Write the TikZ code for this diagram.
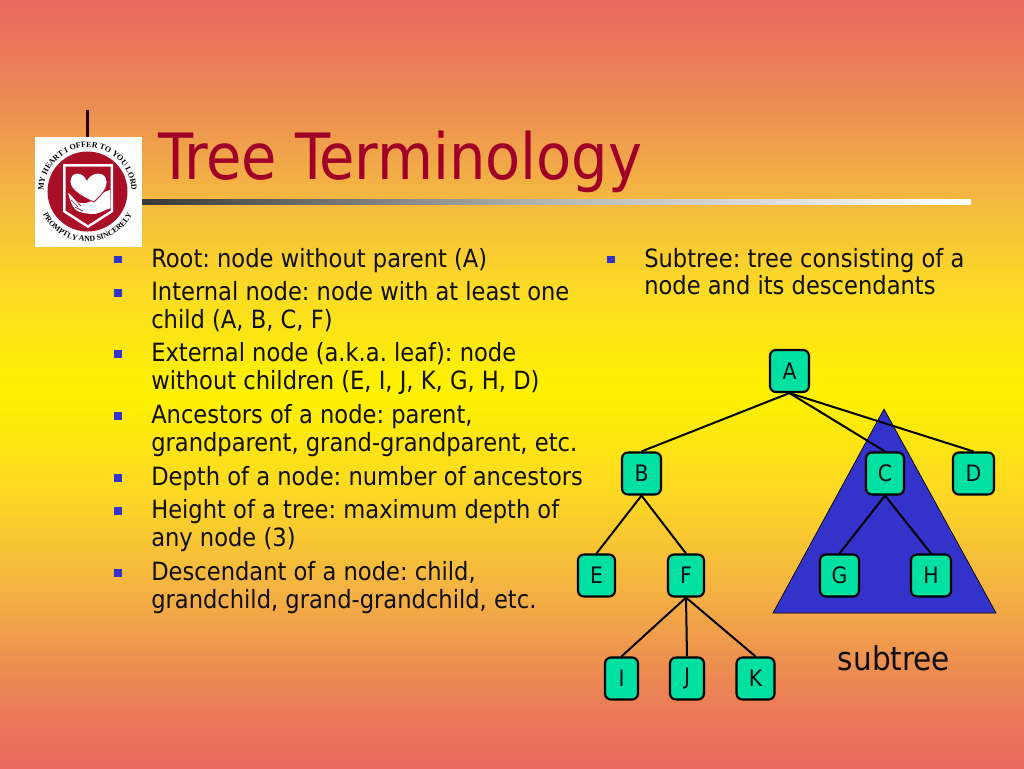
\documentclass[tikz,border=0pt]{standalone}
\usepackage{fontspec}
\setmainfont{DejaVu Sans Condensed}
\newfontfamily\sealfont{Liberation Serif}
\usetikzlibrary{decorations.text}
\definecolor{titlered}{RGB}{160,0,40}
\definecolor{nodegreen}{RGB}{0,224,160}
\definecolor{triblue}{RGB}{51,51,204}
\definecolor{sealred}{RGB}{170,15,40}
\definecolor{inktext}{RGB}{15,15,20}
\pgfdeclareverticalshading{slidebg}{100bp}{
  rgb(0bp)=(0.925,0.41,0.375);
  rgb(25bp)=(0.925,0.41,0.375);
  rgb(30bp)=(0.92,0.51,0.335);
  rgb(37bp)=(0.96,0.71,0.255);
  rgb(43bp)=(0.99,0.85,0.14);
  rgb(49.5bp)=(1,0.95,0);
  rgb(56bp)=(0.99,0.86,0.14);
  rgb(62bp)=(0.96,0.725,0.255);
  rgb(69bp)=(0.92,0.53,0.335);
  rgb(75bp)=(0.925,0.41,0.375);
  rgb(100bp)=(0.925,0.41,0.375)}
\tikzset{
  x=0.75pt,y=-0.75pt,
  treenode/.style={draw=black,line width=1.6pt,fill=nodegreen,rounded corners=4.5pt,inner sep=0pt,text=inktext,font=\fontsize{17}{17}\selectfont},
  treeedge/.style={draw=black,line width=1.5pt},
  bodytext/.style={anchor=base west,inner sep=0pt,text=inktext,font=\fontsize{18.85}{18.85}\selectfont\frenchspacing},
  bulletmark/.style={fill=triblue,draw=none,minimum size=5.6pt,inner sep=0pt}
}
\newcommand{\tn}[6]{\node[treenode,minimum width=#4*0.75pt,minimum height=#5*0.75pt] (#1) at (#2,#3) {#6};}
\begin{document}
\begin{tikzpicture}
\useasboundingbox (0,0) rectangle (1024,768);
\shade[shading=slidebg] (0,0) rectangle (1024,768);
% title rule
\shade[left color=black!78,right color=white,middle color=black!28] (142,199) rectangle (971,204.3);
\fill[black!85!red] (85.5,110) rectangle (88.5,137);
% seal
\fill[white] (35,137) rectangle (142,247);
\fill[sealred] (87.5,191.5) circle[radius=40];
\fill[white] (63,164) -- (113,164) -- (113,212) -- (88,228) -- (63,212) -- cycle;
\fill[sealred] (65.5,166.5) -- (110.5,166.5) -- (110.5,210.5) -- (88,225) -- (65.5,210.5) -- cycle;
\fill[white] (68,193) .. controls (73,196) and (76,202) .. (80,203) .. controls (85,204) and (90,202) .. (93,200) .. controls (98,197) and (104,191) .. (110,190) -- (110.5,208) .. controls (105,210) and (100,213) .. (95,214) .. controls (88,214) and (80,213) .. (76,210) .. controls (72,207) and (70,200) .. (68,193) -- cycle;
\fill[white,draw=sealred,line width=0.6pt] (87,180) .. controls (83,171) and (70,170) .. (70,182) .. controls (70,190) and (84,198) .. (94,202) .. controls (100,196) and (107,190) .. (107,182) .. controls (107,170) and (91,171) .. (87,180) -- cycle;
\draw[sealred,line width=0.5pt] (71,200) -- (78,207);
\draw[sealred,line width=0.5pt] (73,197) -- (81,206);
\draw[sealred,line width=0.5pt] (75,207) -- (83,211);
\path[decorate,decoration={text along path,text align=center,text={|\fontsize{6}{7}\selectfont\sealfont\bfseries|MY HEART I OFFER TO YOU LORD}}] (43.5,191.5) arc[start angle=180,end angle=360,radius=44];
\path[decorate,decoration={text along path,text align=center,text={|\fontsize{5.8}{7}\selectfont\sealfont\bfseries|PROMPTLY AND SINCERELY}}] (37.7,196) arc[start angle=175,end angle=5,radius=50];
% title
\node[anchor=base west,inner sep=0pt,text=titlered,font=\fontsize{47.9}{47.9}\selectfont] (title) at (158,179) {Tree Terminology};
% left column
\node[bulletmark] (b1) at (118,259.5) {};
\node[bodytext] (l1) at (151,267) {Root: node without parent (A)};
\node[bulletmark] (b2) at (118,293) {};
\node[bodytext] (l2) at (151,300) {Internal node: node with at least one};
\node[bodytext] (l3) at (151,328) {child (A, B, C, F)};
\node[bulletmark] (b3) at (118,354) {};
\node[bodytext] (l4) at (151,361) {External node (a.k.a. leaf): node};
\node[bodytext] (l5) at (151,389) {without children (E, I, J, K, G, H, D)};
\node[bulletmark] (b4) at (118,416) {};
\node[bodytext] (l6) at (151,423) {Ancestors of a node: parent,};
\node[bodytext] (l7) at (151,451) {grandparent, grand-grandparent, etc.};
\node[bulletmark] (b5) at (118,478) {};
\node[bodytext] (l8) at (151,485) {Depth of a node: number of ancestors};
\node[bulletmark] (b6) at (118,511) {};
\node[bodytext] (l9) at (151,518) {Height of a tree: maximum depth of};
\node[bodytext] (l10) at (151,546) {any node (3)};
\node[bulletmark] (b7) at (118,573) {};
\node[bodytext] (l11) at (151,580) {Descendant of a node: child,};
\node[bodytext] (l12) at (151,608) {grandchild, grand-grandchild, etc.};
% right column
\node[bulletmark] (b8) at (611,259.5) {};
\node[bodytext] (r1) at (644,267) {Subtree: tree consisting of a};
\node[bodytext] (r2) at (644,294) {node and its descendants};
% triangle
\fill[triblue,draw=black,line width=0.5pt] (884,409) -- (996,613) -- (773,613) -- cycle;
% nodes
\tn{A}{789.5}{371}{39}{42}{A}
\tn{B}{641.5}{473.5}{39}{42}{B}
\tn{C}{885}{473.5}{38}{42}{C}
\tn{D}{973.5}{473.5}{41}{42}{D}
\tn{E}{596.5}{575.5}{37}{42}{E}
\tn{F}{686}{575.5}{36}{42}{F}
\tn{G}{839.5}{575.5}{39}{42}{G}
\tn{H}{931}{575.5}{40}{42}{H}
\tn{I}{621.5}{678.5}{33}{42}{I}
\tn{J}{687}{678.5}{34}{42}{J}
\tn{K}{755.5}{678.5}{38}{42}{K}
\draw[treeedge] (A.south) -- (B.north);
\draw[treeedge] (A.south) -- (C.north);
\draw[treeedge] (A.south) -- (D.north);
\draw[treeedge] (B.south) -- (E.north);
\draw[treeedge] (B.south) -- (F.north);
\draw[treeedge] (C.south) -- (G.north);
\draw[treeedge] (C.south) -- (H.north);
\draw[treeedge] (F.south) -- (I.north);
\draw[treeedge] (F.south) -- (J.north);
\draw[treeedge] (F.south) -- (K.north);
\node[anchor=base,inner sep=0pt,text=inktext,font=\fontsize{24.6}{24.6}\selectfont] (sub) at (894,670) {subtree};
\end{tikzpicture}
\end{document}
